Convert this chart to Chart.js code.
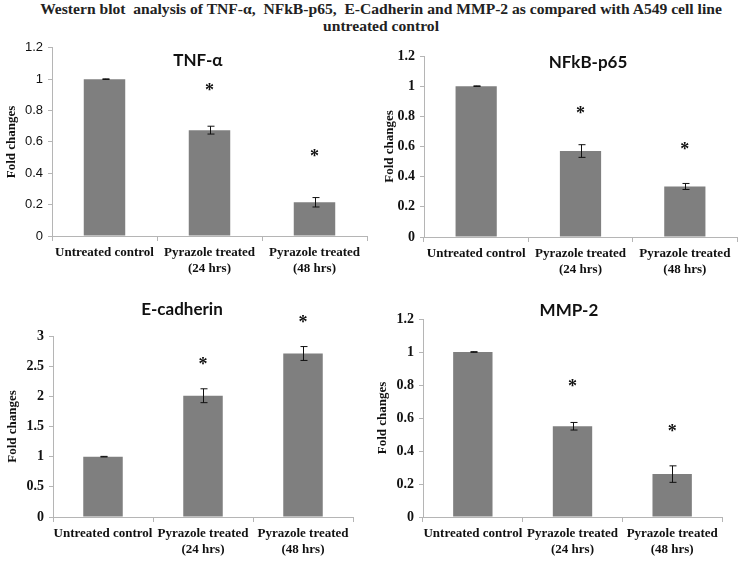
<!DOCTYPE html>
<html><head><meta charset="utf-8">
<script src="https://cdn.jsdelivr.net/npm/chart.js@4.4.1/dist/chart.umd.min.js"></script>
<style>
html,body{margin:0;padding:0;background:#fff;width:739px;height:561px;overflow:hidden;}
#title{position:absolute;left:0;top:0px;width:762px;text-align:center;font-family:"Liberation Serif","Times New Roman",serif;font-weight:bold;font-size:15.6px;line-height:17px;color:#222;white-space:nowrap;}
.panel{position:absolute;}
</style></head><body>
<div id="title">Western blot&nbsp; analysis of TNF-α,&nbsp; NFkB-p65,&nbsp; E-Cadherin and MMP-2 as compared with A549 cell line<br>untreated control</div>
<div class="panel" style="left:0;top:35px;width:375px;height:255px"><canvas id="c1"></canvas></div>
<div class="panel" style="left:372px;top:35px;width:367px;height:255px"><canvas id="c2"></canvas></div>
<div class="panel" style="left:0;top:290px;width:372px;height:271px"><canvas id="c3"></canvas></div>
<div class="panel" style="left:372px;top:290px;width:367px;height:271px"><canvas id="c4"></canvas></div>
<script>
// ---- data ----
const categories = [['Untreated control'], ['Pyrazole treated', '(24 hrs)'], ['Pyrazole treated', '(48 hrs)']];

const tnfValues  = [1.0, 0.675, 0.215];
const tnfErrors  = [0.002, 0.025, 0.03];
const tnfStars   = [null, 0.95, 0.53];

const nfkbValues = [1.0, 0.57, 0.335];
const nfkbErrors = [0.002, 0.042, 0.02];
const nfkbStars  = [null, 0.84, 0.60];

const ecadValues = [1.0, 2.01, 2.71];
const ecadErrors = [0.005, 0.115, 0.115];
const ecadStars  = [null, 2.58, 3.28];

const mmpValues  = [1.0, 0.55, 0.26];
const mmpErrors  = [0.002, 0.023, 0.05];
const mmpStars   = [null, 0.81, 0.54];

const smallAxisMax = 1.2, smallAxisStep = 0.2;
const ecadAxisMax = 3, ecadAxisStep = 0.5;

// ---- drawing helpers ----
const serifFam = '"Liberation Serif","Times New Roman",serif';
const serifBold = {family: serifFam, weight: 'bold', size: 13};
const serifTick = {family: serifFam, weight: 'bold', size: 14};
const sansTick = {family: '"Liberation Sans",Arial,sans-serif', weight: 'normal', size: 13};

const extrasPlugin = {
  id: 'extras',
  afterDatasetsDraw(chart, args, opts) {
    const ctx = chart.ctx;
    const meta = chart.getDatasetMeta(0);
    const ys = chart.scales.y;
    const vals = chart.data.datasets[0].data;
    ctx.save();
    ctx.strokeStyle = '#111';
    ctx.lineWidth = 1;
    meta.data.forEach((bar, i) => {
      const e = opts.errors[i];
      const top = ys.getPixelForValue(vals[i] + e);
      const bot = ys.getPixelForValue(vals[i] - e);
      const x = Math.round(bar.x) + 0.5;
      ctx.beginPath();
      ctx.moveTo(x, top); ctx.lineTo(x, bot);
      ctx.moveTo(x - 3, top); ctx.lineTo(x + 4, top);
      ctx.moveTo(x - 3, bot); ctx.lineTo(x + 4, bot);
      ctx.stroke();
      const s = opts.stars[i];
      if (s !== null && s !== undefined) {
        ctx.fillStyle = '#111';
        ctx.font = 'bold 18px ' + serifFam;
        ctx.textAlign = 'center';
        ctx.textBaseline = 'middle';
        ctx.fillText('*', bar.x, ys.getPixelForValue(s) + 4);
      }
    });
    const ca = chart.chartArea;
    ctx.fillStyle = '#111';
    ctx.font = 'bold 17px Lato,"Open Sans",sans-serif';
    ctx.textAlign = 'center';
    ctx.textBaseline = 'middle';
    ctx.fillText(opts.title, ca.left + opts.titleFx * (ca.right - ca.left), ca.top + opts.titleDy);
    ctx.restore();
  }
};

function makeChart(id, values, errors, stars, cfg) {
  new Chart(document.getElementById(id), {
    type: 'bar',
    data: {
      labels: categories,
      datasets: [{data: values, backgroundColor: '#7f7f7f', borderWidth: 0,
                  categoryPercentage: 1.0, barPercentage: 0.395}]
    },
    plugins: [extrasPlugin],
    options: {
      responsive: true, maintainAspectRatio: false, animation: false,
      layout: {padding: {top: cfg.padTop, right: cfg.padRight, left: 0, bottom: 0}},
      plugins: {
        legend: {display: false}, tooltip: {enabled: false},
        extras: {errors: errors, stars: stars, title: cfg.title, titleFx: cfg.titleFx, titleDy: cfg.titleDy}
      },
      scales: {
        x: {
          grid: {drawOnChartArea: false, tickLength: 5, color: '#b5b5b5', offset: true},
          border: {color: '#b5b5b5'},
          ticks: {font: serifBold, color: '#111', padding: 4, maxRotation: 0, autoSkip: false},
          afterFit(s) { s.height = cfg.xHeight; }
        },
        y: {
          min: 0, max: cfg.max,
          grid: {drawOnChartArea: false, tickLength: 4, color: '#b5b5b5'},
          border: {color: '#b5b5b5'},
          ticks: {stepSize: cfg.step, font: cfg.tickFont, color: '#111', padding: 5,
                  callback: v => String(Math.round(v * 100) / 100)},
          title: {display: true, text: 'Fold changes', font: serifBold, color: '#111', padding: {top: cfg.yTitlePad, bottom: 0}},
          afterFit(s) { s.width = cfg.yWidth; }
        }
      }
    }
  });
}

makeChart('c1', tnfValues, tnfErrors, tnfStars,
  {max: smallAxisMax, step: smallAxisStep, tickFont: sansTick, padTop: 10, padRight: 8, yWidth: 52, xHeight: 54, yTitlePad: 4,
   title: 'TNF-α', titleFx: 0.463, titleDy: 13});
makeChart('c2', nfkbValues, nfkbErrors, nfkbStars,
  {max: smallAxisMax, step: smallAxisStep, tickFont: serifTick, padTop: 21, padRight: 2, yWidth: 52, xHeight: 53, yTitlePad: 10,
   title: 'NFkB-p65', titleFx: 0.524, titleDy: 7});
makeChart('c3', ecadValues, ecadErrors, ecadStars,
  {max: ecadAxisMax, step: ecadAxisStep, tickFont: serifTick, padTop: 46, padRight: 19, yWidth: 53, xHeight: 44, yTitlePad: 5,
   title: 'E-cadherin', titleFx: 0.43, titleDy: -26});
makeChart('c4', mmpValues, mmpErrors, mmpStars,
  {max: smallAxisMax, step: smallAxisStep, tickFont: serifTick, padTop: 29, padRight: 17, yWidth: 51, xHeight: 44, yTitlePad: 3,
   title: 'MMP-2', titleFx: 0.488, titleDy: -8});
</script>
</body></html>
